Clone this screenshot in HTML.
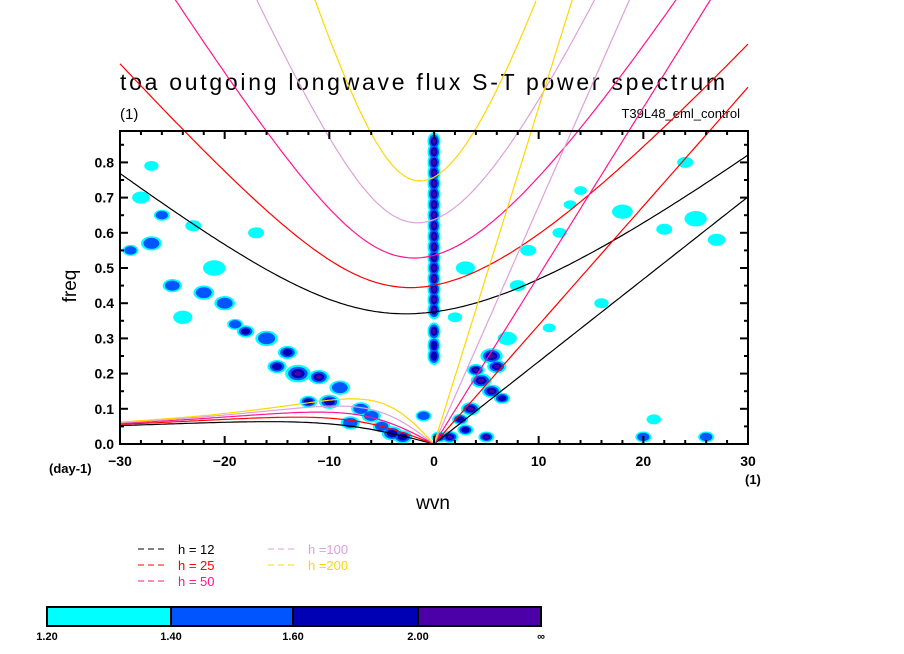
<!DOCTYPE html>
<html><head><meta charset="utf-8">
<style>
html,body{margin:0;padding:0;background:#fff;}
svg{display:block;font-family:"Liberation Sans",sans-serif;}
</style></head>
<body>
<svg id="chart" width="904" height="654" viewBox="0 0 904 654">
<defs><clipPath id="plotclip"><rect x="120" y="131" width="628" height="313"/></clipPath></defs>
<text x="120" y="90" font-size="23" textLength="605" lengthAdjust="spacing">toa outgoing longwave flux S-T power spectrum</text>
<text x="120" y="119" font-size="15">(1)</text>
<text x="740" y="118" font-size="13" text-anchor="end">T39L48_eml_control</text>
<g id="blobs" clip-path="url(#plotclip)"></g>
<g id="curves"></g>
<rect x="120" y="131" width="628" height="313" fill="none" stroke="#000" stroke-width="2"/>
<g id="axes"></g>
<text x="0" y="0" font-size="19" transform="translate(76,286) rotate(-90)" text-anchor="middle">freq</text>
<text x="433" y="509" font-size="19" text-anchor="middle">wvn</text>
<text x="49" y="473" font-size="13" font-weight="bold">(day-1)</text>
<text x="745" y="484" font-size="13" font-weight="bold">(1)</text>
<g id="legend"></g>
<g id="colorbar"></g>
</svg>
<script>
// ---- data ----
const depths = [12, 25, 50, 100, 200];
const depthColors = ["#000000", "#ff0000", "#ff1493", "#dda0dd", "#ffd700"];
const depthLabels = ["h = 12", "h = 25", "h = 50", "h =100", "h =200"];
const xTicks = [-30, -20, -10, 0, 10, 20, 30];
const yTicks = [0.0, 0.1, 0.2, 0.3, 0.4, 0.5, 0.6, 0.7, 0.8];
const levelColors = ["#00ffff", "#0055ff", "#0000b4", "#4b00a8"];
const levelLabels = ["1.20", "1.40", "1.60", "2.00", "\u221e"];
const blobWvn = [0,0,0,0,0,0,0,0,0,0,0,0,0,0,0,0,0,0,0,0,
  5.5,6,4.5,5.5,3.5,2.5,6.5,4,3,1.5,0.5,5,
  -13,-11,-15,-14,-18,-20,-25,-27,-26,-29,-10,-12,-6,-4,-3,-9,-8,-16,-22,-24,-19,-28,-21,-17,-7,-5,
  3,8,12,14,18,22,24,27,11,16,9,13,25,20,21,26,7,-1,-23,-27,2];
const blobFreq = [0.25,0.28,0.32,0.38,0.41,0.44,0.47,0.50,0.53,0.56,0.59,0.62,0.65,0.68,0.71,0.74,0.77,0.80,0.83,0.86,
  0.25,0.22,0.18,0.15,0.10,0.07,0.13,0.21,0.04,0.02,0.02,0.02,
  0.20,0.19,0.22,0.26,0.32,0.40,0.45,0.57,0.65,0.55,0.12,0.12,0.08,0.03,0.02,0.16,0.06,0.30,0.43,0.36,0.34,0.70,0.50,0.60,0.10,0.05,
  0.50,0.45,0.60,0.72,0.66,0.61,0.80,0.58,0.33,0.40,0.55,0.68,0.64,0.02,0.07,0.02,0.30,0.08,0.62,0.79,0.36];
const blobLevel = [3,3,4,4,4,4,4,4,4,4,4,4,4,4,4,4,4,4,4,4,
  4,4,4,4,4,3,3,4,3,4,4,4,
  4,4,3,3,3,2,2,2,2,2,3,3,2,3,3,2,2,2,2,1,2,1,1,1,2,2,
  1,1,1,1,1,1,1,1,1,1,1,1,1,2,1,2,1,2,1,1,1];
const blobSize = [1.0,1.0,1.0,1.0,1.0,1.0,1.0,1.0,1.0,1.0,1.0,1.0,1.0,1.0,1.0,1.0,1.0,1.0,1.0,1.0,
  1.4,1.2,1.3,1.2,1.2,1.0,1.0,1.1,1.0,1.1,1.0,1.0,
  1.6,1.3,1.2,1.2,1.1,1.3,1.2,1.3,1.0,1.0,1.3,1.1,1.2,1.3,1.2,1.3,1.2,1.4,1.3,1.2,1.0,1.1,1.4,1.0,1.2,1.1,
  1.2,1.0,0.9,0.8,1.3,1.0,1.0,1.1,0.8,0.9,1.0,0.8,1.4,1.0,0.9,1.0,1.2,1.0,1.0,0.9,0.9];

const X0=120, X1=748, Y0=444, Y1=131;
function xs(w){return X0+(w+30)*(X1-X0)/60;}
function ys(f){return Y0-f*352;}
const NS="http://www.w3.org/2000/svg";
function mk(tag,attrs,parent){const e=document.createElementNS(NS,tag);for(const k in attrs)e.setAttribute(k,attrs[k]);parent.appendChild(e);return e;}

const bg=document.getElementById('blobs');
for(let lev=1;lev<=4;lev++){
  for(let i=0;i<blobWvn.length;i++){
    if(blobLevel[i]<lev)continue;
    const s=blobSize[i]*(1-(lev-1)*0.24);
    const isCol=blobWvn[i]===0&&blobFreq[i]>0.2;
    const rx=isCol?s*6.5:s*8;
    const ry=isCol?s*9:s*5.5;
    const e=mk('ellipse',{cx:xs(blobWvn[i]),cy:ys(blobFreq[i]),rx:rx,ry:ry,fill:levelColors[lev-1]},bg);
    
    
  }
}

const ax=document.getElementById('axes');


for(let w=-30;w<=30;w+=2){
  const major=w%10===0, L=major?8:4;
  mk('line',{x1:xs(w),x2:xs(w),y1:Y0,y2:Y0-L,stroke:'#000','stroke-width':2},ax);
  mk('line',{x1:xs(w),x2:xs(w),y1:Y1,y2:Y1+L,stroke:'#000','stroke-width':2},ax);
}
for(let k=0;k<=17;k++){
  const f=k*0.05, major=k%2===0, L=major?8:4;
  mk('line',{x1:X0,x2:X0+L,y1:ys(f),y2:ys(f),stroke:'#000','stroke-width':2},ax);
  mk('line',{x1:X1,x2:X1-L,y1:ys(f),y2:ys(f),stroke:'#000','stroke-width':2},ax);
}
xTicks.forEach(w=>{
  const t=mk('text',{x:xs(w),y:Y0+22,'font-size':14,'font-weight':'bold','text-anchor':'middle'},ax);
  t.textContent=(w<0?'\u2212':'')+Math.abs(w);
  
  
});
yTicks.forEach(f=>{
  const t=mk('text',{x:X0-6,y:ys(f)+5,'font-size':14,'font-weight':'bold','text-anchor':'end'},ax);
  t.textContent=f.toFixed(1);
  
  
});

const g=9.8, R=6.371e6, Om=7.292e-5, beta=2*Om/R;
function toCpd(w){return w*86400/(2*Math.PI);}
function cubicRoots(k,c){
  const p=-(c*c*k*k+3*beta*c), q=-beta*c*c*k;
  const r=2*Math.sqrt(-p/3);
  let a=3*q/(2*p)*Math.sqrt(-3/p); a=Math.max(-1,Math.min(1,a));
  const phi=Math.acos(a)/3;
  return [0,1,2].map(m=>r*Math.cos(phi-2*Math.PI*m/3));
}
const cg=document.getElementById('curves');
depths.forEach((h,i)=>{
  const c=Math.sqrt(g*h), col=depthColors[i];
  let ig=[],er=[],kel=[];
  for(let s=-30;s<=30.001;s+=0.25){
    const k=s/R, rts=cubicRoots(k,c);
    ig.push([xs(s),ys(toCpd(Math.max(...rts)))]);
    if(s<=0){
      const pos=rts.filter(v=>v>=-1e-12).sort((a,b)=>a-b);
      const w=s===0?0:pos[0];
      er.push([xs(s),ys(toCpd(w))]);
    }
    if(s>=0) kel.push([xs(s),ys(toCpd(k*c))]);
  }
  const clipTop=pts=>pts.filter(p=>p[1]>-5);
  [[ig,'ig-curve'],[er,'er-curve'],[kel,'kelvin-line']].forEach(([pts,nm])=>{
    const pl=mk('polyline',{points:clipTop(pts).map(p=>p[0].toFixed(1)+','+p[1].toFixed(1)).join(' '),fill:'none',stroke:col,'stroke-width':1.2},cg);
    
    
  });
});

const lg=document.getElementById('legend');
depthLabels.forEach((lab,i)=>{
  const colx=i<3?138:268, y=549+(i%3)*16;
  mk('line',{x1:colx,x2:colx+29,y1:y,y2:y,stroke:depthColors[i],'stroke-dasharray':'6,4','stroke-width':1},lg);
  const t=mk('text',{x:colx+40,y:y+5,'font-size':13,fill:depthColors[i]},lg);
  t.textContent=lab;
  
  
});

const cb=document.getElementById('colorbar');
const edges=[47,171,293,418,541];
for(let i=0;i<4;i++){
  const r=mk('rect',{x:edges[i],y:607,width:edges[i+1]-edges[i],height:19,fill:levelColors[i],stroke:'#000','stroke-width':2},cb);
  
  
}
levelLabels.forEach((lab,i)=>{
  const t=mk('text',{x:edges[i],y:640,'font-size':11,'font-weight':'bold','text-anchor':'middle'},cb);
  t.textContent=lab;
  
  
});
</script>
</body></html>
